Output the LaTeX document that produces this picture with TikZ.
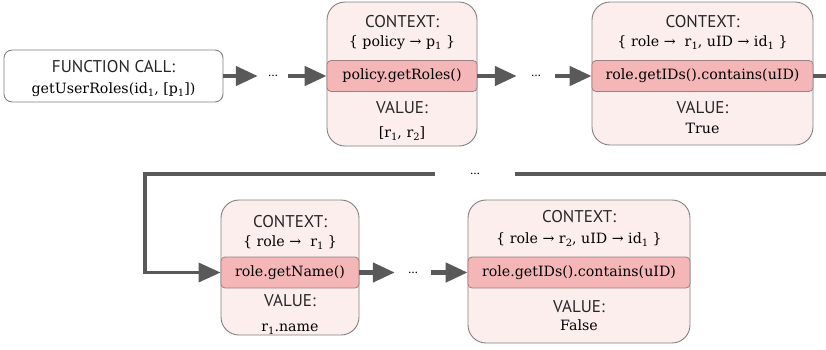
\documentclass[tikz,border=0pt]{standalone}
\usepackage{fontspec}
\setmainfont{DejaVu Serif}
\setsansfont{PT Sans}
\usetikzlibrary{arrows.meta}

\definecolor{cardfill}{HTML}{FDEEEE}
\definecolor{cardline}{HTML}{808080}
\definecolor{exprfill}{HTML}{F4B6B6}
\definecolor{exprline}{HTML}{9A8080}
\definecolor{flow}{HTML}{595959}

\tikzset{
  card/.style={draw=cardline, fill=cardfill, line width=0.9pt, rounded corners=18pt, inner sep=0pt},
  callbox/.style={draw=cardline, fill=white, line width=0.9pt, rounded corners=8pt, inner sep=0pt},
  expr/.style={draw=exprline, fill=exprfill, line width=0.8pt, rounded corners=4pt, inner sep=0pt,
    font=\fontsize{14.2}{16}\selectfont},
  head/.style={anchor=base, inner sep=0pt, text=black!85, font=\sffamily\fontsize{17}{19}\selectfont},
  body/.style={anchor=base, inner sep=0pt, font=\fontsize{14.2}{16}\selectfont},
  gap/.style={inner sep=0pt, font=\sffamily\fontsize{13}{14}\selectfont},
  flowarrow/.style={draw=flow, line width=4.5pt, -{Triangle[length=22pt,width=19pt]}},
  flowline/.style={draw=flow, line width=3.5pt},
}

% subscript digit set low, as in the labels
\newcommand{\sub}[1]{\raisebox{-3.2pt}{\fontsize{10}{10}\selectfont #1}}

\begin{document}
\begin{tikzpicture}[x=1pt,y=-1pt]
\useasboundingbox (0,0) rectangle (826,349);

% ---- entry point ----
\node[callbox, minimum width=219pt, minimum height=52pt] (f) at (113.5,76) {};
\node[head] (fh) at (113.5,72) {FUNCTION CALL:};
\node[body] (fb) at (113.5,93) {getUserRoles(id\sub{1}, [p\sub{1}])};

% ---- policy.getRoles() ----
\node[card, minimum width=150pt, minimum height=144pt] (b2) at (402,74) {};
\node[expr, minimum width=150pt, minimum height=31pt] (b2x) at (402,76) {policy.getRoles()};
\node[head] (b2h) at (402,27) {CONTEXT:};
\node[body] (b2c) at (402,46) {\{ policy → p\sub{1} \}};
\node[head] (b2v) at (402,113) {VALUE:};
\node[body] (b2r) at (402,137) {[r\sub{1}, r\sub{2}]};

% ---- role.getIDs().contains(uID), first role ----
\node[card, minimum width=221pt, minimum height=143pt] (b3) at (702.5,73.5) {};
\node[expr, minimum width=221pt, minimum height=31pt] (b3x) at (702.5,76) {role.getIDs().contains(uID)};
\node[head] (b3h) at (702.5,27) {CONTEXT:};
\node[body] (b3c) at (702.5,46) {\{ role →\ \ r\sub{1}, uID → id\sub{1} \}};
\node[head] (b3v) at (702.5,113) {VALUE:};
\node[body] (b3r) at (702.5,133) {True};

% ---- role.getName() ----
\node[card, minimum width=138pt, minimum height=135pt] (b4) at (290,267.5) {};
\node[expr, minimum width=138pt, minimum height=31pt] (b4x) at (290,272.5) {role.getName()};
\node[head] (b4h) at (290,227) {CONTEXT:};
\node[body] (b4c) at (290,246) {\{ role →\ \ r\sub{1} \}};
\node[head] (b4v) at (290,306) {VALUE:};
\node[body] (b4r) at (290,331) {r\sub{1}.name};

% ---- role.getIDs().contains(uID), second role ----
\node[card, minimum width=222pt, minimum height=143pt] (b5) at (579,271.5) {};
\node[expr, minimum width=222pt, minimum height=31pt] (b5x) at (579,272.5) {role.getIDs().contains(uID)};
\node[head] (b5h) at (579,222) {CONTEXT:};
\node[body] (b5c) at (579,243) {\{ role → r\sub{2}, uID → id\sub{1} \}};
\node[head] (b5v) at (579,312) {VALUE:};
\node[body] (b5r) at (579,330) {False};

% ---- elided steps ----
\node[gap, minimum width=30pt] (d1) at (273,76) {…};
\node[gap, minimum width=38pt] (d2) at (536,76) {…};
\node[gap, minimum width=80pt] (d3) at (475,174) {…};
\node[gap, minimum width=36pt] (d4) at (413,272.5) {…};

\coordinate (exitR) at (826,76);
\coordinate (enterR) at (826,174);
\coordinate (bend) at (145,174);

% ---- flow ----
\draw[flowarrow] (f.east) -- (d1.west);
\draw[flowarrow] (d1.east) -- (b2x.west);
\draw[flowarrow] (b2x.east) -- (d2.west);
\draw[flowarrow] (d2.east) -- (b3x.west);
\draw[flowline, line width=4pt] (b3x.east) -- (exitR);
\draw[flowline] (enterR) -- (d3.east);
\draw[flowarrow, line width=3.5pt] (d3.west) -- (bend) |- (b4x.west);
\draw[flowarrow] (b4x.east) -- (d4.west);
\draw[flowarrow] (d4.east) -- (b5x.west);
\end{tikzpicture}
\end{document}
